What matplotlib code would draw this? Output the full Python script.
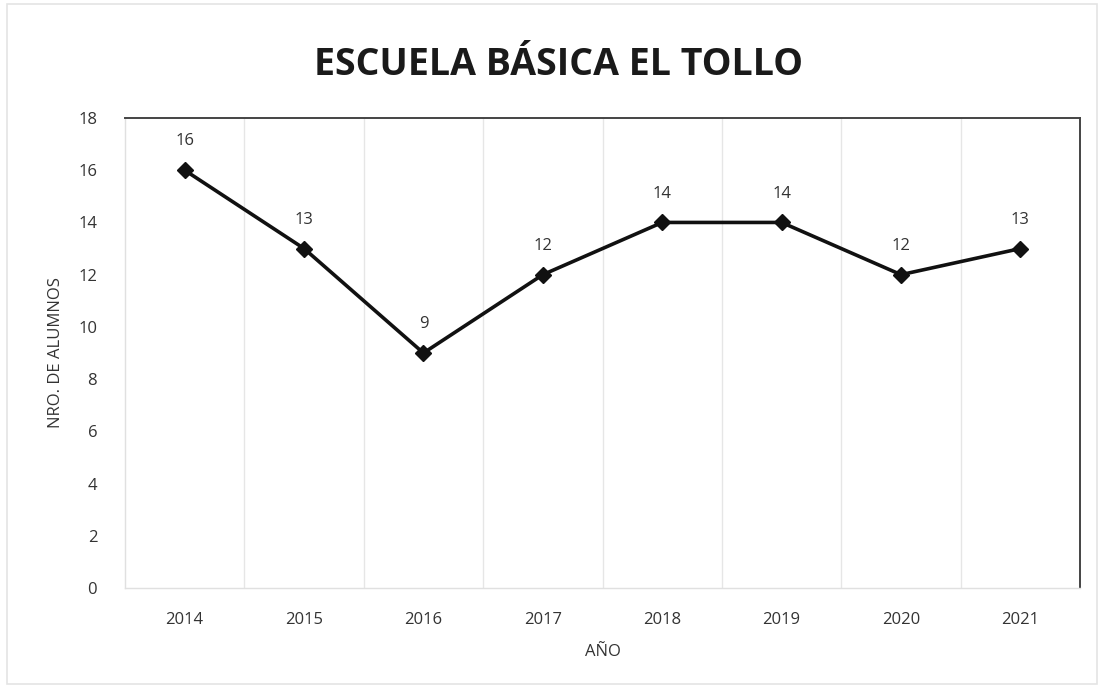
import matplotlib
matplotlib.use("Agg")
import matplotlib.pyplot as plt
from matplotlib.patches import Rectangle

years = ["2014", "2015", "2016", "2017", "2018", "2019", "2020", "2021"]
alumnos = [16, 13, 9, 12, 14, 14, 12, 13]
yticks = [0, 2, 4, 6, 8, 10, 12, 14, 16, 18]

plt.rcParams['font.family'] = ['Open Sans', 'DejaVu Sans']

fig = plt.figure(figsize=(11.01, 6.88), dpi=100)
ax = fig.add_axes([0.1135, 0.1453, 0.8675, 0.6832])

x = list(range(len(years)))
ax.plot(x, alumnos, color='#111111', lw=2.6, marker='D', ms=8,
        markerfacecolor='#111111', markeredgecolor='#111111', zorder=3)

for xi, v in zip(x, alumnos):
    ax.annotate(str(v), (xi, v), xytext=(0, 15), textcoords='offset points',
                ha='center', va='bottom', fontsize=12, color='#333333')

ax.set_xlim(-0.5, len(years) - 0.5)
ax.set_ylim(0, 18)
ax.set_yticks(yticks)
ax.set_xticks(x)
ax.set_xticklabels(years)
ax.tick_params(axis='both', length=0, labelsize=12, colors='#333333')
ax.tick_params(axis='x', pad=17)
ax.tick_params(axis='y', pad=20)

# vertical gridlines at category boundaries
for b in range(1, len(years)):
    ax.axvline(b - 0.5, color='#e6e6e6', lw=1, zorder=1)

for side in ['top', 'right']:
    ax.spines[side].set_color('#444444')
    ax.spines[side].set_linewidth(1.4)
for side in ['left', 'bottom']:
    ax.spines[side].set_color('#e0e0e0')
    ax.spines[side].set_linewidth(1)

ax.set_xlabel("AÑO", fontsize=12, color='#333333', labelpad=12)
ax.set_ylabel("NRO. DE ALUMNOS", fontsize=12, color='#333333', labelpad=10)

fig.text(0.507, 0.905, "ESCUELA BÁSICA EL TOLLO", ha='center', va='center',
         fontsize=27, fontweight='bold', color='#1a1a1a')

fig.patches.append(Rectangle((0.006, 0.006), 0.99, 0.988, transform=fig.transFigure,
                             fill=False, edgecolor='#e4e4e4', lw=1.2))

fig.savefig("out.png", dpi=100)
